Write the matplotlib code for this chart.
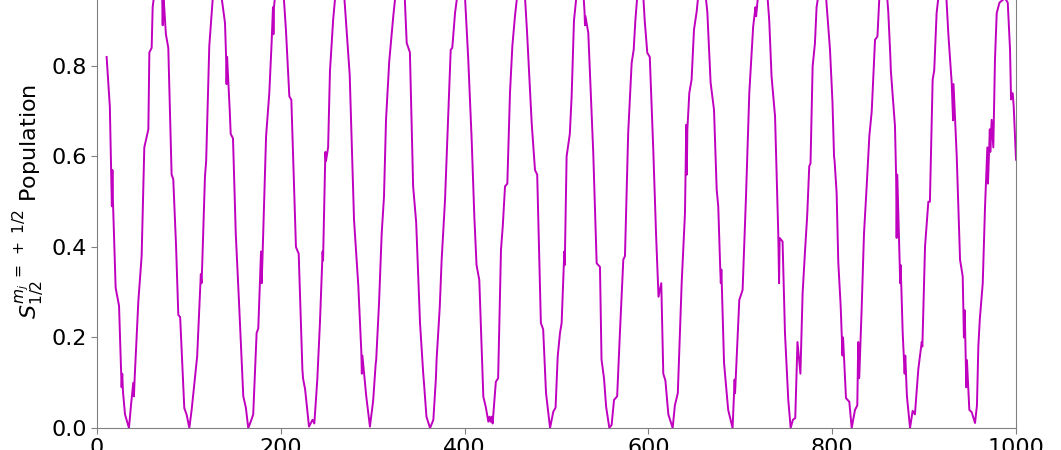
import numpy as np
import matplotlib
matplotlib.use("Agg")
import matplotlib.pyplot as plt

# time axis and population values
time = [
    10.5, 14, 16.2, 16.8, 17.4, 20.3, 24, 26.8, 27.5, 28.3, 30.5, 34.8, 37, 39.5, 40.2, 41,
    45, 48.6, 51.5, 55.9, 57, 59.5, 60.6, 63, 66, 69.6, 70.8, 71.5, 72.2, 75, 77.6, 81.2,
    83, 86, 88.5, 90.5, 95, 97.5, 100.5, 103, 109, 113, 113.8, 114.5, 117.5, 118.8, 122.2,
    126, 131, 135.7, 139.3, 140.5, 141, 141.6, 144.5, 145.5, 148, 151, 154.5, 159.2, 162,
    164.6, 167.5, 170, 173.7, 175.5, 178.5, 179.2, 180, 184, 187.5, 190, 191.5, 192, 192.6,
    194.5, 199, 203, 205.6, 209.3, 211.5, 216.5, 219.5, 223.5, 224.2, 226.5, 230.7, 234.5,
    236.5, 239.7, 242.6, 245, 245.5, 246, 248, 248.5, 249.2, 251.5, 253.5, 257, 260, 264.4,
    268.5, 272.4, 275, 279.7, 284.4, 287.6, 288.2, 288.8, 293, 297, 300.5, 303.2, 303.8,
    306.9, 309.8, 312.3, 314.5, 318, 322.4, 325.5, 330, 334.5, 337, 340.5, 344, 346.5,
    347.3, 351.5, 355, 355.8, 358.5, 362.4, 366, 368.8, 369.5, 373, 375, 378.7, 381.2,
    384.9, 386.6, 389.6, 393, 396, 400, 404, 407.7, 410.6, 413, 416, 420.4, 423, 425.8,
    427, 428.2, 429.4, 430.5, 434, 436.5, 439.6, 441.5, 444, 446.5, 449.4, 452, 454.8,
    457.5, 460.3, 465.5, 468, 473, 476.6, 479, 483, 485.5, 488.6, 493, 496.5, 499, 501.3,
    503.8, 505.6, 508.5, 509, 511, 514.5, 516.5, 519, 522, 526, 529, 530.5, 531, 531.5,
    534.6, 540, 543.7, 547.3, 549, 551.7, 554, 557.5, 560, 562.6, 566, 569, 572.7, 574.5,
    578, 581.8, 584, 585.8, 588.5, 591, 594, 596, 598.8, 601.5, 605.3, 608.3, 611, 614,
    616.2, 618.5, 621.7, 626.4, 628.8, 632, 636.2, 639.8, 641.2, 641.8, 642.4, 644.5, 647,
    649.6, 652.5, 655, 658, 662, 664.1, 667.7, 671.4, 674.3, 676, 678.2, 678.8, 679.4,
    682.3, 686.8, 691.6, 693.8, 694.3, 698.9, 702.5, 706.2, 709.8, 714, 716.5, 717.2, 720,
    725, 729, 731.5, 734, 737.8, 741.3, 742.2, 742.8, 746, 748.6, 752.2, 754.8, 757.2,
    759.8, 762.2, 765.4, 767.8, 770.3, 772.8, 775, 776.4, 778.7, 781.2, 783, 786, 788.5,
    793, 797.6, 800.3, 802, 802.6, 804.8, 806.6, 809.2, 811.2, 811.8, 815, 818.6, 821.2,
    824.8, 827.3, 828.3, 829.4, 832, 834.6, 837.5, 840.4, 843, 846.6, 849.2, 851.5, 855.6,
    859.5, 861, 863.3, 863.8, 868.3, 869.6, 870.1, 870.8, 873.5, 874, 874.5, 876.7, 878.8,
    879.5, 881.3, 884.7, 887.5, 890, 893.7, 897.4, 898.1, 901, 904.6, 906.3, 909.3, 911,
    913.6, 916, 918.5, 919.3, 921.5, 924, 926.3, 930, 931.5, 932, 935.5, 939.1, 942, 943.3,
    944.2, 945.9, 946.6, 949.2, 951.8, 955.4, 957.5, 959, 960.6, 963.8, 966.3, 968.8,
    969.5, 971.5, 972, 973.5, 975.3, 977.1, 979, 982, 988, 991, 993.5, 994.6, 996.4,
    997.5, 1000,
]
population = [
    0.82, 0.71, 0.49, 0.57, 0.50, 0.31, 0.27, 0.09, 0.12, 0.08, 0.03, 0.0, 0.05, 0.10, 0.07, 0.11,
    0.28, 0.38, 0.62, 0.66, 0.83, 0.84, 0.93, 0.97, 0.99, 0.96, 0.97, 0.89, 0.96, 0.87, 0.84, 0.56,
    0.55, 0.405, 0.25, 0.245, 0.044, 0.03, 0.0, 0.04, 0.158, 0.34, 0.32, 0.36, 0.556, 0.59, 0.844,
    0.95, 0.99, 0.95, 0.895, 0.82, 0.76, 0.82, 0.70, 0.65, 0.64, 0.43, 0.28, 0.07, 0.045,
    0.0, 0.015, 0.03, 0.21, 0.22, 0.39, 0.32, 0.37, 0.645, 0.74, 0.85, 0.93, 0.87, 0.93,
    0.97, 1.0, 0.96, 0.88, 0.733, 0.725, 0.40, 0.385, 0.13, 0.11, 0.085, 0.003, 0.018,
    0.01, 0.106, 0.232, 0.36, 0.39, 0.37, 0.56, 0.61, 0.59, 0.62, 0.788, 0.903, 0.97, 1.0,
    0.97, 0.858, 0.78, 0.46, 0.313, 0.17, 0.12, 0.16, 0.07, 0.003, 0.06, 0.14, 0.15,
    0.276, 0.43, 0.511, 0.681, 0.81, 0.91, 0.97, 0.995, 0.97, 0.851, 0.83, 0.534, 0.475,
    0.455, 0.232, 0.12, 0.10, 0.025, 0.0, 0.018, 0.11, 0.15, 0.268, 0.37, 0.504, 0.637,
    0.836, 0.84, 0.917, 0.97, 0.99, 0.97, 0.814, 0.637, 0.467, 0.36, 0.327, 0.069, 0.047, 0.014,
    0.025, 0.014, 0.025, 0.01, 0.102, 0.11, 0.394, 0.445, 0.534, 0.54, 0.741, 0.845, 0.91,
    0.96, 0.99, 0.96, 0.873, 0.674, 0.57, 0.56, 0.232, 0.218, 0.077, 0.0, 0.036, 0.045, 0.158,
    0.21, 0.232, 0.39, 0.36, 0.60, 0.65, 0.734, 0.90, 0.96, 0.99, 0.97, 0.92, 0.89, 0.91,
    0.873, 0.608, 0.364, 0.356, 0.151, 0.11, 0.047, 0.0, 0.007, 0.062, 0.07, 0.21, 0.372, 0.38,
    0.652, 0.807, 0.836, 0.90, 0.97, 0.99, 0.97, 0.90, 0.829, 0.82, 0.615, 0.43, 0.29, 0.32,
    0.12, 0.105, 0.03, 0.0, 0.05, 0.077, 0.32, 0.475, 0.67, 0.56, 0.66, 0.74, 0.77,
    0.88, 0.92, 0.97, 0.99, 0.96, 0.92, 0.763, 0.703, 0.527, 0.49, 0.35, 0.32, 0.35,
    0.144, 0.04, 0.0, 0.107, 0.077, 0.283, 0.305, 0.512, 0.741, 0.887, 0.93, 0.91, 0.97,
    0.99, 0.97, 0.90, 0.777, 0.689, 0.43, 0.32, 0.42, 0.412, 0.21, 0.062, 0.0, 0.018,
    0.022, 0.19, 0.12, 0.298, 0.387, 0.47, 0.578, 0.585, 0.799, 0.85, 0.93, 0.97, 0.99,
    0.96, 0.836, 0.72, 0.60, 0.59, 0.52, 0.367, 0.27, 0.16, 0.20, 0.066, 0.058, 0.0,
    0.04, 0.05, 0.19, 0.11, 0.261, 0.43, 0.534, 0.645, 0.70, 0.858, 0.865, 0.96, 0.99,
    0.96, 0.92, 0.82, 0.79, 0.667, 0.55, 0.42, 0.56, 0.36, 0.32, 0.36, 0.21, 0.12,
    0.16, 0.07, 0.0, 0.038, 0.03, 0.13, 0.19, 0.18, 0.401, 0.50, 0.50, 0.77, 0.79,
    0.917, 0.96, 0.985, 0.97, 0.99, 0.96, 0.873, 0.763, 0.68, 0.76, 0.60, 0.372, 0.335, 0.20,
    0.26, 0.09, 0.15, 0.04, 0.035, 0.011, 0.05, 0.18, 0.24, 0.32, 0.49, 0.62,
    0.54, 0.66, 0.61, 0.681, 0.62, 0.814, 0.917, 0.94, 0.95, 0.94, 0.836, 0.726, 0.74,
    0.71, 0.593,
]

fig = plt.figure(figsize=(10.61, 4.5), dpi=100)
# axes run past the top edge of the picture, as in the cropped original
ax = fig.add_axes([0.0914, 0.0489, 0.8662, 1.0056])

ax.plot(time, population, color="m", linewidth=1.4)

ax.set_xlim(0, 1000)
ax.set_ylim(0, 1.0)
ax.set_xticks([0, 200, 400, 600, 800, 1000])
ax.set_yticks([0.0, 0.2, 0.4, 0.6, 0.8, 1.0])
ax.tick_params(labelsize=16, color="0.5", length=4)
for spine in ax.spines.values():
    spine.set_color("0.5")
ax.set_ylabel(r"$S_{1/2}^{m_j\;=\;+\;1/2}$ Population", fontsize=16)

fig.savefig("out.png", dpi=100)
